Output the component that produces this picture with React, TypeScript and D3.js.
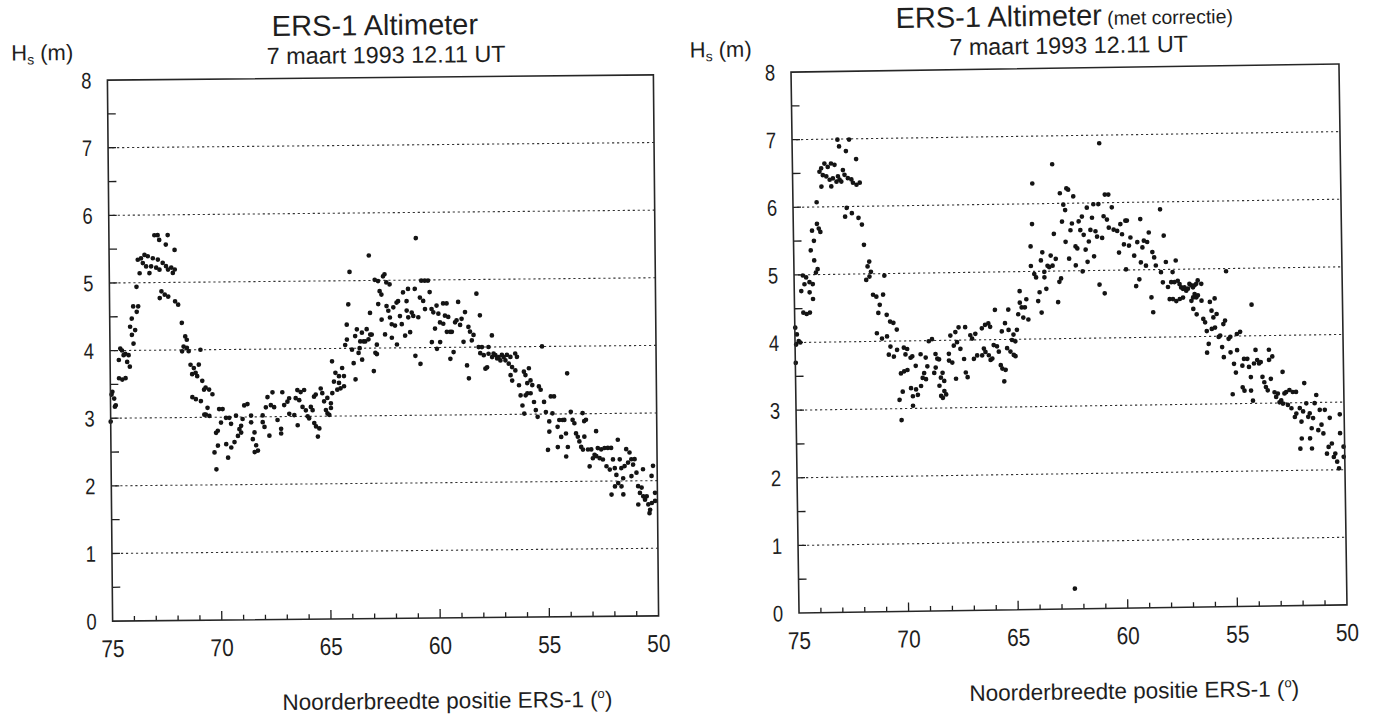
import React from 'react';
import * as d3 from 'd3';

// Hs (m) against latitude (degrees north) along the ERS-1 track
const uncorrected: [number, number][] = [
  [74.91, 3.39], [74.83, 3.29], [74.76, 3.19], [74.8, 3.17], [74.95, 3.35], [75.0, 2.95],
  [74.6, 3.86], [74.53, 4.03], [74.45, 4.0], [74.3, 3.95], [74.15, 3.93], [74.38, 3.93], [74.22, 3.83], [74.1, 3.76],
  [74.6, 3.59], [74.45, 3.57], [74.3, 3.59],
  [73.92, 4.1], [73.99, 4.23], [73.84, 4.3], [73.76, 4.57], [73.99, 4.47], [73.92, 4.65], [73.69, 4.65], [74.07, 4.35],
  [73.76, 4.94], [73.61, 5.14],
  [73.69, 5.34], [73.54, 5.36], [73.46, 5.29], [73.38, 5.41], [73.23, 5.39], [73.31, 5.24], [73.16, 5.14], [73.0, 5.36],
  [73.08, 5.24], [72.85, 5.22], [72.77, 5.34], [72.7, 5.19], [72.55, 5.29], [72.4, 5.24], [72.31, 5.19], [72.16, 5.22],
  [72.09, 5.14], [72.0, 5.19],
  [72.92, 5.7], [72.77, 5.7], [72.31, 5.7], [72.7, 5.63], [72.4, 5.56], [72.0, 5.48],
  [72.62, 4.87], [72.47, 4.82], [72.31, 4.79], [72.7, 4.77], [72.0, 4.72], [71.86, 4.67],
  [71.7, 4.4], [71.55, 4.2], [71.48, 4.15], [71.63, 4.05], [71.7, 3.98], [71.48, 4.03], [71.4, 3.98], [70.86, 4.0],
  [71.32, 3.78], [71.17, 3.73], [70.94, 3.78], [71.09, 3.66], [71.02, 3.61], [71.25, 3.64],
  [70.79, 3.54], [70.64, 3.44], [70.71, 3.41], [70.48, 3.41], [70.33, 3.34],
  [71.25, 3.3], [71.09, 3.27], [70.86, 3.24],
  [70.56, 3.14], [70.64, 3.04], [70.48, 3.02], [70.71, 3.04],
  [70.03, 3.12], [69.87, 3.12], [69.95, 2.92], [70.1, 2.8], [70.18, 2.77], [69.72, 2.99], [69.57, 2.99], [69.49, 2.9], [69.26, 3.02],
  [70.26, 2.48], [70.1, 2.58], [70.18, 2.23],
  [69.72, 2.6], [69.64, 2.4], [69.49, 2.55], [69.34, 2.63],
  [69.18, 2.72], [69.03, 2.77], [69.11, 2.82],
  [68.96, 2.97], [69.03, 2.87], [68.88, 3.17], [68.73, 3.19],
  [68.57, 3.02], [68.57, 2.92], [68.42, 2.77], [68.5, 2.67], [68.35, 2.58], [68.42, 2.48], [68.27, 2.5],
  [68.04, 2.92], [67.96, 2.85], [68.04, 3.02], [67.89, 3.14], [67.81, 3.29], [67.66, 3.17], [67.58, 3.36], [67.51, 3.14],
  [67.36, 2.95], [67.2, 2.82], [67.2, 2.75], [67.13, 3.36], [67.05, 3.17], [66.9, 3.22], [66.82, 3.27], [66.82, 3.04],
  [66.59, 3.02], [66.52, 3.27], [67.74, 2.72],
  [66.44, 3.39], [66.29, 3.36], [66.13, 3.39], [66.36, 3.24], [66.21, 3.14], [66.06, 3.09], [65.98, 3.0], [65.91, 2.97],
  [66.44, 2.87], [65.83, 3.14], [65.75, 3.09], [65.68, 2.9], [65.6, 2.85], [65.45, 2.82], [65.52, 2.7], [65.68, 3.29],
  [65.6, 3.32], [65.37, 3.41], [65.3, 3.34], [65.22, 3.22], [65.14, 3.09], [65.07, 3.04], [64.99, 3.02], [64.91, 3.12],
  [64.91, 3.19], [65.07, 3.27], [64.84, 3.34], [64.76, 3.51], [64.69, 3.64], [64.84, 3.81], [64.53, 3.59], [64.53, 3.49],
  [64.46, 3.41], [64.61, 3.39], [64.38, 3.71], [64.3, 3.44], [64.3, 3.59], [64.23, 4.05], [64.15, 4.13], [64.15, 4.35],
  [64.07, 4.65], [64.0, 5.13], [63.92, 3.98], [63.85, 3.78], [63.77, 3.54], [63.77, 4.18], [63.69, 4.28], [63.62, 3.93],
  [63.57, 4.0], [63.54, 4.1], [63.46, 3.83], [63.46, 4.23], [63.39, 4.1], [63.31, 4.1], [63.24, 4.28], [63.16, 4.13],
  [63.11, 5.37], [63.08, 4.52], [63.08, 4.2], [63.01, 4.2], [62.93, 3.66], [62.85, 3.93], [62.78, 4.05], [62.78, 3.91],
  [62.85, 5.01], [62.7, 4.99], [62.63, 4.84], [62.55, 4.79], [62.7, 4.65], [62.55, 4.42], [62.47, 5.06], [62.4, 5.09],
  [62.32, 4.97], [62.17, 4.94], [62.4, 4.2], [62.32, 4.62], [62.24, 4.55], [62.17, 4.45], [62.09, 4.15], [62.09, 4.35],
  [62.01, 4.6], [61.94, 4.33], [61.86, 4.05], [61.86, 4.67], [61.79, 4.69], [61.71, 4.47], [61.63, 4.35], [61.56, 4.82],
  [61.48, 4.18], [61.4, 4.55], [61.33, 4.45], [61.4, 4.69], [61.33, 4.87], [61.25, 4.23], [61.17, 4.52], [61.1, 4.47],
  [61.02, 4.87], [61.02, 3.88], [60.95, 5.62], [60.87, 4.45], [60.79, 3.76], [60.79, 4.74], [60.72, 4.99], [60.64, 4.69],
  [60.56, 4.99], [60.41, 4.99], [60.56, 4.57], [60.34, 4.82], [60.26, 4.57], [60.18, 4.52], [60.26, 4.08], [60.11, 4.28],
  [60.03, 4.62], [60.03, 3.98], [59.95, 4.5], [59.88, 4.37], [59.88, 4.08], [59.73, 4.65], [59.57, 4.65], [59.65, 4.47],
  [59.73, 4.35], [59.57, 4.23], [59.5, 4.45], [59.42, 4.23], [59.42, 3.83], [59.34, 4.23], [59.27, 3.93], [59.19, 4.37],
  [59.12, 4.4], [59.04, 4.67], [58.96, 4.33], [58.89, 4.42], [58.81, 4.08], [58.73, 4.52], [58.66, 3.73], [58.58, 3.54],
  [58.58, 4.3], [58.51, 4.23], [58.43, 4.1], [58.35, 4.18], [58.2, 4.79], [58.12, 4.0], [58.05, 4.47], [58.05, 3.91],
  [57.97, 4.0], [57.89, 3.88], [57.82, 3.68],
  [57.74, 3.7], [57.67, 4.0], [57.51, 4.17], [57.67, 3.9], [57.51, 3.85], [57.44, 3.9], [57.36, 3.88], [57.28, 3.83],
  [57.21, 3.85], [57.13, 3.8], [57.06, 3.88], [56.98, 3.85], [56.9, 3.8], [56.83, 3.88], [56.75, 3.75], [56.67, 3.85],
  [56.45, 3.9], [56.37, 3.85], [56.6, 3.7], [56.67, 3.58], [56.6, 3.5], [56.45, 3.65], [56.29, 3.43], [56.22, 3.28],
  [56.14, 3.13], [56.06, 3.01], [55.99, 3.28], [55.91, 3.31], [55.76, 3.31], [56.06, 3.63], [55.99, 3.58], [55.91, 3.46],
  [55.83, 3.68], [55.76, 3.5], [55.68, 3.43], [55.61, 3.18], [55.53, 3.06], [55.45, 2.96], [55.38, 3.41], [55.3, 3.36],
  [55.22, 4.0], [55.15, 3.18], [55.07, 3.03], [54.99, 2.47], [54.92, 2.89], [54.92, 2.74], [54.84, 3.26], [54.77, 3.01],
  [54.69, 3.26], [54.54, 2.81], [54.54, 2.51], [54.46, 2.91], [54.38, 2.66], [54.31, 2.91], [54.23, 2.91], [54.16, 2.71],
  [54.16, 2.37], [54.08, 3.6], [54.08, 2.51], [53.93, 3.03], [53.85, 2.91], [53.77, 2.86], [53.7, 2.71], [53.62, 2.66],
  [53.55, 2.59], [53.47, 2.51], [53.39, 3.01], [53.39, 2.47], [53.32, 2.89], [53.32, 2.66], [53.24, 2.91], [53.16, 2.47],
  [53.09, 2.22], [53.01, 2.47], [52.94, 2.34], [52.86, 2.39], [52.78, 2.74], [52.78, 2.37], [52.71, 2.49], [52.63, 2.34],
  [52.55, 2.47], [52.48, 2.32], [52.4, 2.49], [52.32, 2.22], [52.25, 2.49], [52.17, 2.17], [52.1, 2.49], [52.02, 2.32],
  [51.94, 2.19], [51.87, 2.09], [51.79, 2.61], [51.79, 1.97], [51.71, 2.32], [51.64, 2.19], [51.56, 2.04], [51.49, 2.22],
  [51.41, 2.47], [51.33, 2.27], [51.26, 2.42], [51.18, 2.32], [51.18, 2.07], [51.1, 2.24], [51.03, 2.32], [50.95, 2.12],
  [50.88, 1.92], [50.72, 1.9], [50.65, 2.17], [50.57, 1.72], [50.49, 1.77], [50.42, 1.65], [50.34, 1.57], [50.37, 1.52],
  [50.26, 1.67], [50.19, 2.22], [50.11, 1.82], [50.11, 1.7], [52.1, 1.8], [51.94, 1.92], [51.64, 1.92], [51.56, 1.8],
  [50.88, 1.65], [50.8, 1.82], [50.65, 1.77], [50.26, 2.07],
];

const corrected: [number, number][] = [
  [72.93, 6.99], [72.86, 6.89], [72.4, 6.99], [72.55, 6.82], [72.09, 6.7],
  [73.77, 6.52], [73.69, 6.57], [73.54, 6.64], [73.39, 6.59], [73.24, 6.64], [73.08, 6.62], [73.62, 6.47], [73.46, 6.45],
  [73.31, 6.4], [73.16, 6.42], [73.0, 6.37], [72.86, 6.4], [72.7, 6.54], [72.63, 6.47], [72.48, 6.42], [72.32, 6.4],
  [72.25, 6.35], [72.09, 6.32], [71.94, 6.35], [73.69, 6.3], [73.24, 6.3], [73.92, 6.07], [72.93, 6.45], [72.78, 6.37],
  [72.55, 5.98], [72.63, 5.85], [72.32, 5.9], [72.02, 5.83], [71.87, 5.73],
  [71.79, 5.43],
  [71.56, 5.18], [71.64, 5.11], [71.49, 5.03], [71.71, 4.91], [71.56, 4.96], [70.88, 4.97],
  [71.41, 4.69], [71.26, 4.66], [70.95, 4.69], [71.11, 4.54], [71.18, 4.42], [70.8, 4.39], [70.65, 4.29], [70.5, 4.27], [70.35, 4.17],
  [71.26, 4.12], [71.03, 4.04], [70.8, 4.07],
  [70.65, 3.92], [70.73, 3.8], [70.5, 3.77], [70.35, 3.87], [70.04, 3.9], [69.89, 3.88], [69.97, 3.8], [69.74, 3.75],
  [69.66, 3.77], [69.51, 3.63], [69.28, 3.8], [69.05, 3.75], [68.98, 3.62], [68.9, 3.99], [68.75, 4.02], [68.6, 3.8],
  [68.52, 3.73], [68.6, 3.6], [68.67, 3.52], [68.44, 3.72], [68.37, 3.45], [68.29, 3.52], [68.22, 3.4], [67.91, 4.07],
  [67.68, 4.12], [67.53, 4.19], [67.76, 3.92], [67.61, 3.97], [67.99, 3.8], [67.99, 3.7], [67.84, 3.67], [67.46, 3.87],
  [67.3, 3.72], [67.23, 4.19], [67.0, 4.07], [66.92, 4.02], [66.77, 4.09], [66.85, 3.72], [66.7, 3.77], [67.23, 3.52],
  [67.15, 3.45], [67.68, 3.43],
  [70.19, 3.52], [70.04, 3.55], [69.89, 3.57], [70.12, 3.25], [70.27, 3.13], [69.74, 3.3], [69.66, 3.18], [69.51, 3.28],
  [69.43, 3.2], [69.28, 3.33], [69.2, 3.45], [69.13, 3.52], [69.05, 3.43], [69.66, 3.04], [70.19, 2.83],
  [68.44, 3.33], [68.37, 3.18], [68.22, 3.25], [68.14, 3.2], [68.29, 3.15],
  [74.98, 4.22], [74.91, 4.12], [74.83, 4.02], [74.95, 3.97], [74.76, 4.0], [74.98, 3.7],
  [74.6, 4.99], [74.45, 4.96], [74.53, 4.86], [74.3, 4.89], [74.15, 4.86], [74.68, 4.76], [74.3, 4.74], [74.15, 4.64],
  [74.6, 4.44], [74.45, 4.42], [74.3, 4.44],
  [74.07, 5.21], [74.0, 5.03], [73.92, 5.08], [74.22, 5.36], [74.07, 5.5], [74.15, 5.65], [73.92, 5.75], [73.77, 5.63], [73.84, 5.68],
  [66.47, 4.17], [66.32, 4.22], [66.17, 4.24], [66.09, 4.19], [66.47, 3.77], [66.39, 3.87], [66.32, 3.82], [66.17, 3.77],
  [66.09, 3.7], [66.01, 3.72], [65.94, 3.92], [65.86, 4.44], [65.79, 3.9], [65.71, 3.82], [65.63, 3.62], [65.56, 3.57],
  [65.41, 3.55], [65.48, 3.38], [65.56, 4.12], [65.41, 4.24], [65.33, 3.87], [65.25, 4.44], [65.25, 4.14], [65.18, 3.82],
  [65.03, 4.07], [65.1, 3.99], [64.95, 3.75], [65.03, 3.77], [64.95, 3.97], [64.87, 4.14], [64.8, 4.37], [64.72, 4.71],
  [64.72, 4.54], [64.64, 4.47], [64.57, 4.32], [64.49, 4.47], [64.42, 4.59], [64.34, 4.29], [64.19, 5.37], [64.11, 5.7],
  [64.07, 6.3], [64.19, 5.08], [64.04, 4.96], [63.96, 4.91], [63.81, 4.69], [63.88, 4.56], [63.73, 4.39], [63.73, 5.16],
  [63.66, 5.28], [63.58, 4.91], [63.58, 4.99], [63.5, 4.74], [63.43, 5.08], [63.35, 5.06], [63.28, 5.23], [63.2, 5.08],
  [63.15, 6.58], [63.12, 5.55], [63.05, 5.18], [62.97, 4.54], [62.9, 4.84], [62.82, 4.89], [62.82, 6.15], [62.74, 5.73],
  [62.67, 5.98], [62.59, 5.9], [62.59, 5.43], [62.52, 6.22], [62.44, 6.2], [62.44, 5.18], [62.36, 5.6], [62.29, 5.7],
  [62.21, 6.1], [62.14, 5.08], [62.14, 5.36], [62.06, 5.33], [61.98, 5.73], [61.91, 5.6], [61.83, 5.8], [61.83, 4.99],
  [61.76, 5.53], [61.68, 5.31], [61.6, 5.93], [61.6, 5.13], [61.53, 5.43], [61.45, 5.6], [61.37, 5.78], [61.3, 5.98],
  [61.3, 5.21], [61.22, 5.58], [61.15, 5.5], [61.07, 5.98], [61.07, 4.79], [60.99, 6.88], [60.92, 5.48], [60.84, 4.66],
  [60.84, 5.8], [60.77, 6.12], [60.69, 5.75], [60.61, 6.12], [60.61, 5.63], [60.46, 5.93], [60.39, 5.6], [60.23, 5.58],
  [60.16, 5.26], [60.08, 5.68], [60.01, 5.53], [59.93, 5.38], [59.85, 5.73], [59.78, 5.73], [59.85, 5.01], [59.7, 5.36],
  [59.63, 5.48], [59.47, 5.21], [59.4, 4.76], [59.32, 5.41], [59.25, 4.86], [59.17, 5.75], [59.17, 5.11], [59.09, 5.33],
  [59.02, 5.43], [58.94, 5.06], [58.87, 5.41], [58.79, 5.55], [58.71, 4.59], [58.64, 4.37], [58.64, 5.26], [58.56, 5.18],
  [58.49, 5.06], [58.26, 5.89], [58.26, 4.96], [58.11, 5.5], [58.18, 4.81], [58.03, 5.11], [57.95, 4.74], [57.88, 4.56],
  [57.58, 5.13], [57.73, 4.96], [57.8, 4.81], [57.65, 4.81], [57.5, 4.83], [57.42, 4.78], [57.35, 4.73], [57.27, 4.71],
  [57.2, 4.73], [57.12, 4.68], [57.04, 4.71], [56.97, 4.78], [56.89, 4.76], [56.81, 4.73], [56.74, 4.76], [56.66, 4.78],
  [56.59, 4.83], [56.43, 4.78], [57.73, 4.56], [57.58, 4.53], [57.42, 4.56], [57.27, 4.58], [56.89, 4.53], [56.81, 4.58],
  [56.74, 4.63], [56.66, 4.58], [56.59, 4.61], [56.43, 4.53], [55.29, 4.96], [56.05, 4.51], [55.83, 4.56], [56.81, 4.41],
  [56.66, 4.33], [56.36, 4.26], [56.28, 4.21], [55.98, 4.38], [55.9, 4.28], [55.75, 4.33], [55.37, 4.23], [55.45, 4.18],
  [56.21, 4.08], [55.98, 4.11], [55.83, 4.13], [55.67, 3.99], [55.6, 4.01], [55.22, 3.96], [55.14, 3.99], [54.84, 4.03],
  [54.69, 4.06], [56.13, 3.89], [56.21, 3.76], [55.52, 3.84], [55.45, 3.69], [55.14, 3.76], [54.84, 3.79], [54.99, 3.59],
  [54.91, 3.46], [54.61, 3.56], [54.53, 3.66], [54.38, 3.66], [54.31, 3.54], [54.23, 3.39], [54.15, 4.46], [54.08, 3.59],
  [54.0, 3.79], [53.93, 3.64], [53.85, 3.59], [53.77, 3.61], [53.7, 3.39], [53.62, 3.31], [53.55, 3.24], [53.47, 3.19],
  [53.39, 3.79], [53.39, 3.64], [53.32, 3.36], [53.24, 3.69], [53.16, 3.16], [53.09, 3.09], [53.01, 3.14], [52.94, 3.01],
  [52.86, 3.04], [52.78, 3.46], [52.78, 2.99], [52.71, 3.14], [52.63, 3.16], [52.56, 2.97], [52.48, 3.19], [52.4, 2.92],
  [52.33, 3.16], [52.25, 2.79], [52.18, 3.16], [52.18, 2.84], [52.02, 2.92], [51.95, 2.72], [51.87, 2.87], [51.8, 3.29],
  [51.72, 2.99], [51.64, 2.79], [51.57, 2.84], [51.49, 2.62], [51.42, 2.77], [51.34, 2.99], [51.26, 3.11], [51.19, 2.59],
  [51.11, 2.89], [51.04, 2.67], [50.96, 2.54], [50.88, 2.89], [50.81, 2.24], [50.73, 2.34], [50.66, 2.77], [50.58, 2.39],
  [50.5, 2.19], [50.43, 2.24], [50.35, 2.12], [50.27, 2.02], [50.2, 2.54], [50.2, 2.82], [50.05, 2.34], [50.05, 2.19],
  [51.95, 2.47], [51.57, 2.47], [52.02, 2.32], [51.49, 2.32], [55.07, 3.14], [54.53, 3.19], [54.61, 3.24], [54.15, 3.04],
  [54.23, 3.19],
  [62.4, 0.3],
];

const latLabels = [75, 70, 65, 60, 55, 50];
const hsLabels = [0, 1, 2, 3, 4, 5, 6, 7, 8];
const gridLevels = [1, 2, 3, 4, 5, 6, 7];

const FONT = "'Liberation Sans', Arial, Helvetica, sans-serif";
const INK = '#1e1e1e';

type PanelProps = {
  data: [number, number][];
  x0: number; x1: number; yT: number; yB: number;
  angle: number;
  titleX: number; subX: number;
  hsX: number; hsY: number;
  correction: boolean;
};

function Panel(p: PanelProps) {
  const x = d3.scaleLinear().domain([75, 50]).range([p.x0, p.x1]);
  const y = d3.scaleLinear().domain([0, 8]).range([p.yB, p.yT]);
  const cx = (p.x0 + p.x1) / 2;
  const cy = (p.yT + p.yB) / 2;

  return (
    <g transform={`rotate(${p.angle} ${cx} ${cy})`} fill={INK} fontFamily={FONT}>
      <text x={p.titleX} y={p.yT - 42.5} textAnchor="middle" fontSize={29}>
        ERS-1 Altimeter
        {p.correction && <tspan fontSize={19.5}> (met correctie)</tspan>}
      </text>
      <text x={p.subX} y={p.yT - 14.5} textAnchor="middle" fontSize={23.4}>
        7 maart 1993 12.11 UT
      </text>
      <text x={p.hsX} y={p.hsY} fontSize={22}>
        H<tspan fontSize={14} dy={4}>s</tspan>
        <tspan dy={-4}> (m)</tspan>
      </text>

      {gridLevels.map((v) => (
        <line key={v} x1={p.x0 + 4} x2={p.x1} y1={y(v)} y2={y(v)}
          stroke="#333" strokeWidth={1.1} strokeDasharray="2.2 2.8" />
      ))}

      {y.ticks(16).filter((t) => t > 0 && t < 8).map((t) => (
        <line key={`y${t}`} x1={p.x0} x2={p.x0 + 8} y1={y(t)} y2={y(t)} stroke={INK} strokeWidth={1.3} />
      ))}
      {x.ticks(25).filter((t) => t < 75 && t > 50).map((t) => (
        <line key={`x${t}`} x1={x(t)} x2={x(t)} y1={p.yB} y2={p.yB - (t % 5 === 0 ? 9 : 5)}
          stroke={INK} strokeWidth={1.3} />
      ))}

      {p.data.map(([lat, hs], i) => (
        <circle key={i} cx={x(lat)} cy={y(hs)} r={2.35} fill="#141414" />
      ))}

      <rect x={p.x0} y={p.yT} width={p.x1 - p.x0} height={p.yB - p.yT}
        fill="none" stroke="#262626" strokeWidth={1.6} />

      {/* condensed tick labels, as in the original plotting font */}
      {hsLabels.map((v) => (
        <text key={`hl${v}`} transform={`translate(${p.x0 - 16} ${y(v)}) scale(0.82 1)`}
          dy="0.36em" textAnchor="end" fontSize={22.5}>{v}</text>
      ))}
      {latLabels.map((v) => (
        <text key={`ll${v}`} transform={`translate(${x(v)} ${p.yB + 36}) scale(0.85 1)`}
          textAnchor="middle" fontSize={24.5}>{v}</text>
      ))}

      <text x={p.x0 + 334} y={p.yB + 90.5} textAnchor="middle" fontSize={22.5}>
        Noorderbreedte positie ERS-1 (<tspan fontSize={13} dy={-9}>o</tspan><tspan dy={9}>)</tspan>
      </text>
    </g>
  );
}

export default function App() {
  return (
    <div style={{ position: 'fixed', left: 0, top: 0, background: '#fff' }}>
      <svg width={1378} height={718} viewBox="0 0 1378 718">
        <rect width={1378} height={718} fill="#fff" />
        <Panel data={uncorrected} x0={110} x1={656} yT={77.5} yB={618.5} angle={-0.55}
          titleX={378} subX={389} hsX={14} hsY={57} correction={false} />
        <Panel data={corrected} x0={795} x1={1343} yT={68} yB={609} angle={-0.85}
          titleX={1069} subX={1073} hsX={694} hsY={52} correction={true} />
      </svg>
    </div>
  );
}
